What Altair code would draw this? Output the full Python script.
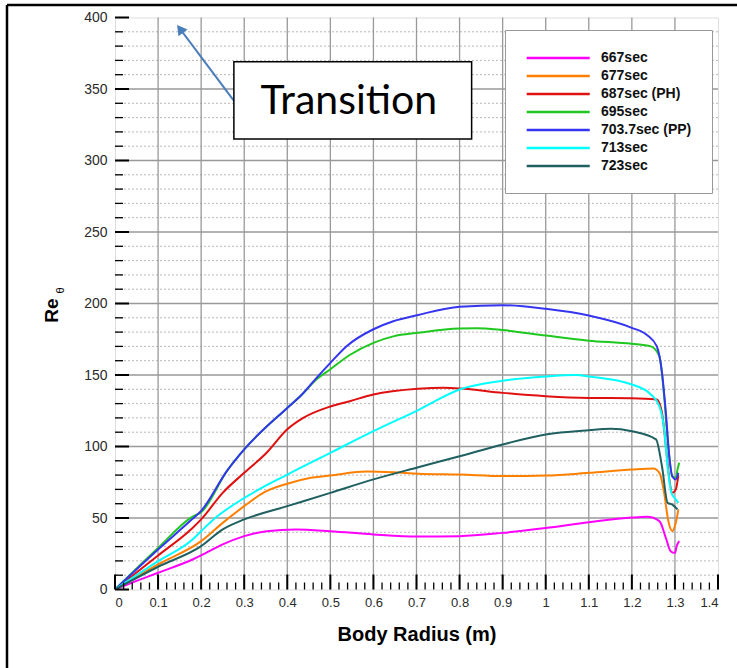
import altair as alt
import pandas as pd

# ---------------- data ----------------
series_names = ["667sec", "677sec", "687sec (PH)", "695sec", "703.7sec (PP)", "713sec", "723sec"]
series_colors = ["#ff00ff", "#ff8000", "#e01010", "#1ec81e", "#3535f0", "#00ffff", "#206060"]

x_667 = [0, 0.05, 0.1, 0.18, 0.2, 0.25, 0.3, 0.352, 0.42, 0.5, 0.6, 0.704, 0.8, 0.9, 1.0, 1.1, 1.2, 1.235, 1.264, 1.279, 1.29, 1.3, 1.304, 1.31]
y_667 = [0, 6, 11.7, 21, 23.8, 31.5, 37.3, 40.8, 42, 40.8, 38.5, 37.0, 37.3, 39.6, 43, 47, 50.3, 50.8, 47.8, 36, 26.8, 25.6, 30.3, 33.8]

x_677 = [0, 0.1, 0.2, 0.25, 0.3, 0.344, 0.4, 0.452, 0.5, 0.584, 0.646, 0.704, 0.8, 0.9, 1.0, 1.1, 1.2, 1.25, 1.264, 1.275, 1.284, 1.294, 1.302, 1.308]
y_677 = [0, 17.5, 33.8, 46.6, 58.3, 67.6, 74, 78, 79.7, 82.5, 82, 81, 80.4, 79.3, 79.7, 81.6, 83.9, 84.6, 81.6, 67.6, 49, 40.8, 46.6, 56]

x_687 = [0, 0.1, 0.18, 0.2, 0.25, 0.3, 0.352, 0.4, 0.437, 0.5, 0.545, 0.6, 0.704, 0.763, 0.8, 0.9, 1.0, 1.1, 1.2, 1.258, 1.27, 1.279, 1.287, 1.294, 1.302, 1.308]
y_687 = [0, 23.8, 43, 49, 67.6, 81.6, 95.6, 112, 120, 128, 131.7, 136.4, 140.3, 141, 140.6, 137.5, 135.2, 134, 133.8, 132.9, 123.5, 100, 77, 67.6, 70, 80]

x_695 = [0, 0.1, 0.18, 0.2, 0.26, 0.3, 0.4, 0.433, 0.468, 0.5, 0.545, 0.6, 0.646, 0.704, 0.8, 0.84, 0.9, 1.0, 1.1, 1.2, 1.244, 1.264, 1.275, 1.283, 1.294, 1.302, 1.306, 1.31]
y_695 = [0, 29, 51, 54, 83, 98, 127, 136, 147, 154, 164, 172.5, 177, 179.5, 182.5, 182.7, 181.4, 177.6, 174, 171.8, 170, 163, 135, 105, 79, 78, 84, 88.6]

x_703 = [0, 0.1, 0.18, 0.2, 0.26, 0.3, 0.4, 0.433, 0.468, 0.5, 0.537, 0.6, 0.646, 0.704, 0.8, 0.9, 1.0, 1.1, 1.2, 1.235, 1.258, 1.27, 1.279, 1.287, 1.294, 1.302, 1.308]
y_703 = [0, 28, 49.4, 55, 83, 98, 127, 136, 148, 158.5, 170, 182, 187.6, 192, 197.7, 198.8, 196.3, 191.6, 183, 178, 170, 151.5, 123.5, 93, 79, 77, 81.6]

x_713 = [0, 0.1, 0.18, 0.2, 0.236, 0.3, 0.4, 0.5, 0.6, 0.704, 0.8, 0.9, 1.0, 1.072, 1.1, 1.2, 1.244, 1.264, 1.275, 1.283, 1.292, 1.302, 1.308]
y_713 = [0, 19.8, 35, 40.8, 50.8, 64, 80.4, 95.6, 110.7, 125.5, 139.9, 146, 149, 150, 149, 143.4, 136.4, 128, 112, 86, 67.6, 63, 60.6]

x_723 = [0, 0.1, 0.2, 0.25, 0.3, 0.4, 0.5, 0.6, 0.704, 0.8, 0.9, 1.0, 1.1, 1.151, 1.2, 1.256, 1.27, 1.283, 1.294, 1.306]
y_723 = [0, 15.9, 30.3, 42, 49, 58.3, 67.6, 77, 85.5, 93.2, 101.4, 108.4, 111.4, 112.4, 110.7, 105, 86, 60.6, 59.4, 56]

x_tick_labels = [0, 0.1, 0.2, 0.3, 0.4, 0.5, 0.6, 0.7, 0.8, 0.9, 1, 1.1, 1.2, 1.3, 1.4]
y_tick_labels = [0, 50, 100, 150, 200, 250, 300, 350, 400]
x_minor_ticks = [round(i * 0.02, 2) for i in range(1, 70) if i % 5 != 0]
y_minor_ticks = [v for v in range(10, 400, 10) if v % 50 != 0]
x_grid = [0.1, 0.2, 0.3, 0.4, 0.5, 0.6, 0.7, 0.8, 0.9, 1, 1.1, 1.2, 1.3]
y_grid = [50, 100, 150, 200, 250, 300, 350]

# annotation (data units)
note_text = "Transition"
note_box = {"x": 0.276, "x2": 0.828, "y": 315, "y2": 369}
note_text_pos = {"x": 0.543, "y": 341}
arrow_tail = {"x": 0.278, "y": 341}
arrow_head = {"x": 0.151, "y": 392}

# ---------------- build ----------------
xs = [x_667, x_677, x_687, x_695, x_703, x_713, x_723]
ys = [y_667, y_677, y_687, y_695, y_703, y_713, y_723]
rows = []
for name, xv, yv in zip(series_names, xs, ys):
    for i, (a, b) in enumerate(zip(xv, yv)):
        rows.append({"series": name, "x": a, "y": b, "order": i})
df = pd.DataFrame(rows)

W, H = 603, 572
xscale = alt.Scale(domain=[0, 1.4], nice=False, zero=False)
yscale = alt.Scale(domain=[0, 400], nice=False, zero=False)

x_axis = alt.Axis(
    values=x_tick_labels, format="~g", ticks=False, domain=False, grid=False,
    labelFont="Liberation Sans", labelFontSize=13, labelColor="#2a2a2a", labelPadding=7,
    title="Body Radius (m)", titleFont="Liberation Sans", titleFontSize=20,
    titleFontWeight="bold", titleColor="#000000", titlePadding=15)
y_axis = alt.Axis(
    values=y_tick_labels, ticks=False, domain=False, grid=False,
    labelFont="Liberation Sans", labelFontSize=14, labelColor="#2a2a2a", labelPadding=8,
    title=None)


def X(field="x"):
    return alt.X(f"{field}:Q", scale=xscale, axis=x_axis, title="Body Radius (m)")


def Y(field="y"):
    return alt.Y(f"{field}:Q", scale=yscale, axis=y_axis, title=None)


minor_grid = alt.Chart(pd.DataFrame({"y": y_minor_ticks})).mark_rule(
    color="#b8b8b8", strokeWidth=1, strokeDash=[2, 2]
).encode(y=Y())

major_grid_x = alt.Chart(pd.DataFrame({"x": x_grid})).mark_rule(
    color="#999999", strokeWidth=1.3
).encode(x=X())

major_grid_y = alt.Chart(pd.DataFrame({"y": y_grid})).mark_rule(
    color="#999999", strokeWidth=1.3
).encode(y=Y())

legend = alt.Legend(
    title=None, orient="none", legendX=390, legendY=12.5, direction="vertical",
    fillColor="white", strokeColor="#999999", padding=20,
    symbolType="M-1,0H9", symbolSize=159, symbolStrokeWidth=2.5,
    labelOffset=60, labelFont="Liberation Sans", labelFontSize=14, labelFontWeight="bold",
    labelColor="#111111", rowPadding=3, labelLimit=300,
)

lines = alt.Chart(df).mark_line(strokeWidth=2, interpolate="monotone", clip=True).encode(
    x=X(), y=Y(),
    color=alt.Color("series:N", scale=alt.Scale(domain=series_names, range=series_colors), legend=legend),
    order="order:Q",
)

x_major_ticks = alt.Chart(pd.DataFrame({"x": x_tick_labels})).mark_rule(
    color="black", strokeWidth=2
).encode(x=X(), y=alt.value(H), y2=alt.value(H - 15))

x_minor = alt.Chart(pd.DataFrame({"x": x_minor_ticks})).mark_rule(
    color="black", strokeWidth=1.3
).encode(x=X(), y=alt.value(H), y2=alt.value(H - 7))

y_major_ticks = alt.Chart(pd.DataFrame({"y": y_tick_labels})).mark_rule(
    color="black", strokeWidth=2
).encode(y=Y(), x=alt.value(0), x2=alt.value(14))

y_minor = alt.Chart(pd.DataFrame({"y": y_minor_ticks})).mark_rule(
    color="black", strokeWidth=1.3
).encode(y=Y(), x=alt.value(0), x2=alt.value(8))

box = alt.Chart(pd.DataFrame([note_box])).mark_rect(
    fill="white", stroke="black", strokeWidth=1.5
).encode(x=X(), x2="x2:Q", y=Y(), y2="y2:Q")

box_text = alt.Chart(pd.DataFrame([{**note_text_pos, "t": note_text}])).mark_text(
    font="Lato", fontSize=41, color="black", align="center", baseline="middle"
).encode(x=X(), y=Y(), text="t:N")

arrow_line = alt.Chart(pd.DataFrame([{"x": arrow_tail["x"], "y": arrow_tail["y"],
                                      "x2": arrow_head["x"], "y2": arrow_head["y"]}])).mark_rule(
    color="#4a7ebb", strokeWidth=2
).encode(x=X(), x2="x2:Q", y=Y(), y2="y2:Q")

arrow_tip = alt.Chart(pd.DataFrame([arrow_head])).mark_point(
    shape="triangle-up", filled=True, color="#4a7ebb", size=130, angle=323, opacity=1
).encode(x=X(), y=Y())

one = pd.DataFrame({"a": [0]})
ytitle_re = alt.Chart(one).mark_text(
    text="Re", font="Liberation Sans", fontSize=19, fontWeight="bold", angle=270,
    align="center", baseline="middle", color="black"
).encode(x=alt.value(-63), y=alt.value(293))
ytitle_theta = alt.Chart(one).mark_text(
    text="θ", font="Liberation Sans", fontSize=11, angle=270,
    align="center", baseline="middle", color="black"
).encode(x=alt.value(-54), y=alt.value(273))

frame_left = alt.Chart(one).mark_rule(color="black", strokeWidth=2.5).encode(
    x=alt.value(-108), y=alt.value(-12.5), y2=alt.value(660))
frame_top = alt.Chart(one).mark_rule(color="black", strokeWidth=2.5).encode(
    x=alt.value(-108), x2=alt.value(640), y=alt.value(-12.5))

chart = alt.layer(
    minor_grid, major_grid_x, major_grid_y, lines,
    x_minor, x_major_ticks, y_minor, y_major_ticks,
    arrow_line, arrow_tip, box, box_text,
    ytitle_re, ytitle_theta, frame_left, frame_top,
).properties(
    width=W, height=H,
    autosize=alt.AutoSizeParams(type="none"),
    padding={"left": 115, "top": 17.5, "right": 19, "bottom": 78},
).configure_view(stroke="black", strokeWidth=2.5).configure(background="white")

chart.save("out.html", embed_options={"renderer": "svg", "actions": False})
